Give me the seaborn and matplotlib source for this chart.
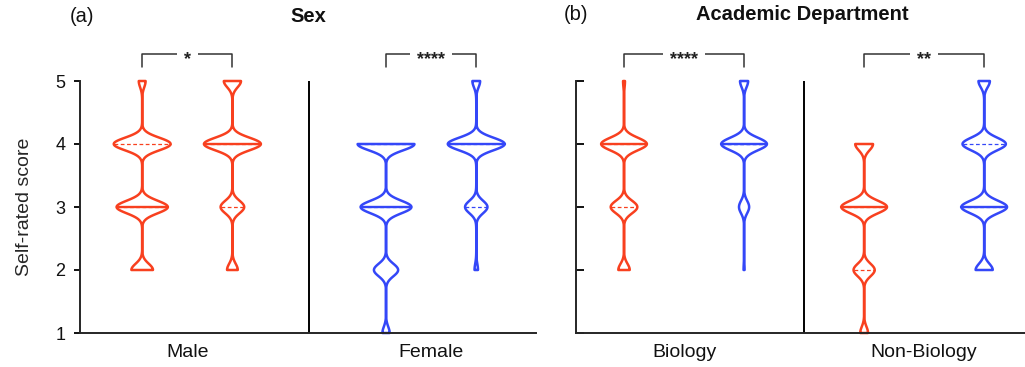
import numpy as np
import pandas as pd
import matplotlib
matplotlib.use('Agg')
import matplotlib.pyplot as plt
import seaborn as sns

# likert scores and number of answers at each score
scores = [1, 2, 3, 4, 5]

sex_groups = ['Male', 'Female']
male_first = [0, 19, 45, 50, 6]
male_second = [0, 10, 22, 53, 16]
female_first = [6, 20, 42, 47, 0]
female_second = [0, 4, 26, 66, 9]
sex_stars = ['*', '****']

dept_groups = ['Biology', 'Non-Biology']
bio_red = [0, 12, 28, 48, 2]
bio_blue = [0, 1, 10, 45, 8]
nonbio_red = [7, 19, 41, 16, 0]
nonbio_blue = [0, 15, 40, 38, 10]
dept_stars = ['****', '**']

pair = ['first', 'second']
RED = '#F8401F'
BLUE = '#3447F8'


def expand(group, level, counts):
    return pd.DataFrame({'group': group, 'level': level,
                         'score': np.repeat(scores, counts)})


sex_df = pd.concat([
    expand('Male', 'first', male_first),
    expand('Male', 'second', male_second),
    expand('Female', 'first', female_first),
    expand('Female', 'second', female_second),
], ignore_index=True)

dept_df = pd.concat([
    expand('Biology', 'first', bio_red),
    expand('Biology', 'second', bio_blue),
    expand('Non-Biology', 'first', nonbio_red),
    expand('Non-Biology', 'second', nonbio_blue),
], ignore_index=True)

sns.set_style('ticks')
plt.rcParams['font.family'] = ['Liberation Sans', 'DejaVu Sans']
plt.rcParams['axes.linewidth'] = 1.4
plt.rcParams['text.color'] = '#111111'
plt.rcParams['xtick.color'] = '#111111'
plt.rcParams['ytick.color'] = '#111111'


# same absolute kernel width for every violin
def bw(kde):
    return 0.1 / kde.dataset.std(ddof=1)


violin_kws = dict(x='group', y='score', hue='level', hue_order=pair,
                  fill=False, inner='quart', cut=0, density_norm='width',
                  common_norm=False, bw_method=bw, gridsize=601,
                  linewidth=1.8, legend=False)

fig = plt.figure(figsize=(10.25, 3.67), dpi=100)
ax1 = fig.add_axes([80 / 1025, 34 / 367, 456 / 1025, 252 / 367])
ax2 = fig.add_axes([576 / 1025, 34 / 367, 449 / 1025, 252 / 367])

for g, c in zip(sex_groups, [RED, BLUE]):
    sns.violinplot(data=sex_df[sex_df['group'] == g], order=sex_groups,
                   palette=[c, c], width=0.74, gap=0.37, ax=ax1, **violin_kws)

sns.violinplot(data=dept_df, order=dept_groups, palette=[RED, BLUE],
               width=1.0, gap=0.62, ax=ax2, **violin_kws)


def style_panel(ax, xlim, off, stars, left):
    # median solid, quartiles thin dashed
    for i, line in enumerate(ax.lines):
        if i % 3 == 1:
            line.set_linestyle('-')
            line.set_linewidth(1.7)
        else:
            line.set_linestyle((0, (3, 2)))
            line.set_linewidth(0.9)
        line.set_clip_on(False)
    for coll in ax.collections:
        coll.set_clip_on(False)

    ax.set_ylim(1, 5)
    ax.set_xlim(*xlim)
    ax.set_yticks(scores)
    ax.axvline(0.5, color='black', lw=1.4)
    sns.despine(ax=ax)
    ax.set_xlabel('')
    ax.tick_params(axis='x', length=0, labelsize=14, pad=8)
    if left:
        ax.tick_params(axis='y', direction='out', length=4.5, width=1.4,
                       labelsize=13, pad=6)
        ax.set_ylabel('Self-rated score', fontsize=14)
        ax.yaxis.set_label_coords(-0.103, 0.5)
    else:
        ax.tick_params(axis='y', direction='in', length=5.5, width=1.4,
                       labelleft=False)
        ax.set_ylabel('')

    for i, s in enumerate(stars):
        x0, x1 = i - off, i + off
        ax.plot([x0, x0, x1, x1], [5.22, 5.43, 5.43, 5.22], color='#333333',
                lw=1.1, clip_on=False)
        ax.annotate(s, (i, 5.43), xytext=(0, -7.5), textcoords='offset points',
                    ha='center', va='baseline', fontsize=13, fontweight='bold',
                    color='#222222', annotation_clip=False,
                    bbox=dict(facecolor='white', edgecolor='none', pad=5))


style_panel(ax1, (-0.44, 1.43), 0.185, sex_stars, True)
style_panel(ax2, (-0.45, 1.42), 0.25, dept_stars, False)

fig.text(82 / 1025, 1 - 17 / 367, '(a)', ha='center', va='center', fontsize=14.5)
fig.text(308 / 1025, 1 - 17 / 367, 'Sex', ha='center', va='center',
         fontsize=14.5, fontweight='bold')
fig.text(576 / 1025, 1 - 15 / 367, '(b)', ha='center', va='center', fontsize=14.5)
fig.text(802 / 1025, 1 - 15 / 367, 'Academic Department', ha='center',
         va='center', fontsize=14.5, fontweight='bold')

fig.savefig('out.png', dpi=100)
